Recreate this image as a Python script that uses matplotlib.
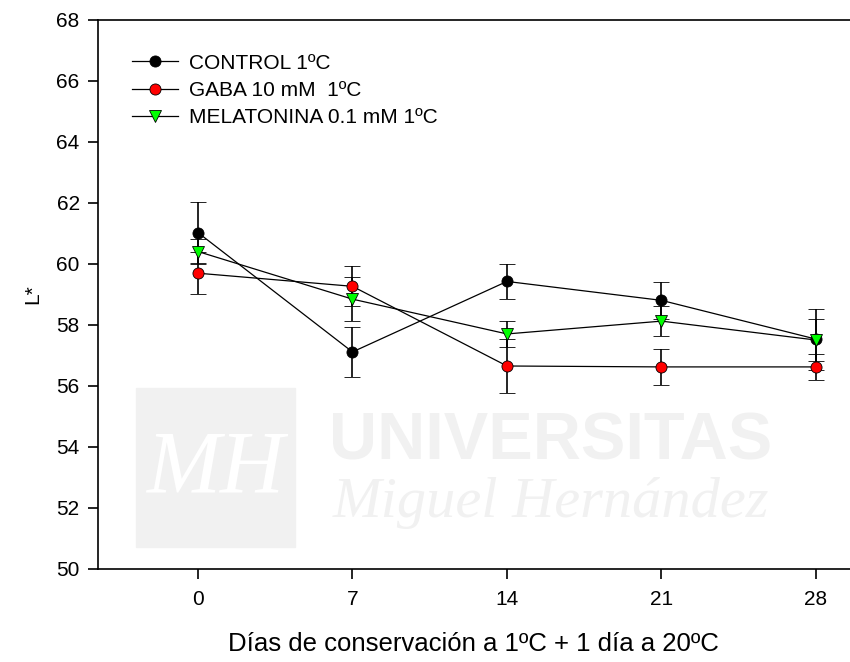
import matplotlib
matplotlib.use("Agg")
import matplotlib.pyplot as plt
from matplotlib.patches import Rectangle

plt.rcParams['font.family'] = ['Liberation Sans', 'DejaVu Sans']

# Data
days = [0, 7, 14, 21, 28]

control = [61.02, 57.11, 59.42, 58.80, 57.53]
control_err = [1.00, 0.82, 0.58, 0.60, 1.00]

gaba = [59.69, 59.26, 56.65, 56.62, 56.62]
gaba_err = [0.68, 0.65, 0.90, 0.60, 0.43]

melatonina = [60.40, 58.84, 57.70, 58.12, 57.50]
melatonina_err = [0.40, 0.71, 0.42, 0.49, 0.70]

labels = ["CONTROL 1ºC", "GABA 10 mM  1ºC", "MELATONINA 0.1 mM 1ºC"]
yticks = [50, 52, 54, 56, 58, 60, 62, 64, 66, 68]

fig = plt.figure(figsize=(8.5, 6.62), dpi=100)
ax = fig.add_axes([0.115, 0.1405, 0.885, 0.83])
ax.patch.set_alpha(0)

# faint watermark behind the plot
wm = "#f1f1f1"
fig.patches.append(Rectangle((136 / 850, 1 - 547 / 662), 159 / 850, 159 / 662,
                             transform=fig.transFigure, color=wm, zorder=0))
fig.text(215 / 850, 1 - 470 / 662, "MH", fontsize=64, style="italic", color="white",
         family="Liberation Serif", ha="center", va="center", zorder=0.5)
fig.text(551 / 850, 1 - 442 / 662, "UNIVERSITAS", fontsize=48, weight="bold",
         color=wm, ha="center", va="center", zorder=0)
fig.text(551 / 850, 1 - 503 / 662, "Miguel Hernández", fontsize=42, style="italic",
         family="Liberation Serif", color=wm, ha="center", va="center", zorder=0)

common = dict(color="black", lw=0.9, capsize=5.5, elinewidth=1.2, capthick=1.2,
              markeredgecolor="black", markeredgewidth=0.6, markersize=8)
ax.errorbar(days, control, yerr=control_err, marker="o", markerfacecolor="black",
            label=labels[0], **common)
ax.errorbar(days, gaba, yerr=gaba_err, marker="o", markerfacecolor="red",
            label=labels[1], **common)
ax.errorbar(days, melatonina, yerr=melatonina_err, marker="v", markerfacecolor="#00ff00",
            label=labels[2], **common)

ax.set_xlim(-4.54, 29.54)
ax.set_ylim(50, 68)
ax.set_xticks(days)
ax.set_yticks(yticks)
ax.tick_params(direction="out", length=7, width=1.2, labelsize=15, pad=8)
ax.tick_params(axis="y", pad=6)
ax.spines["right"].set_visible(False)
for s in ["left", "bottom", "top"]:
    ax.spines[s].set_linewidth(1.2)

ax.set_xlabel("Días de conservación a 1ºC + 1 día a 20ºC", fontsize=18.5, labelpad=17)
ax.set_ylabel("L*", fontsize=15, labelpad=10)

handles, labs = ax.get_legend_handles_labels()
handles = [h[0] for h in handles]
ax.legend(handles, labs, loc="upper left", bbox_to_anchor=(0.02, 0.972), frameon=False,
          fontsize=15, handlelength=2.25, handletextpad=0.5, labelspacing=0.4)

fig.savefig("out.png", dpi=100)
